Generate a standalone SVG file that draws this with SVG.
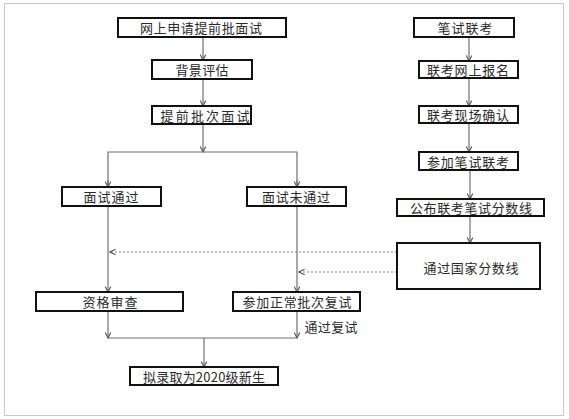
<svg xmlns="http://www.w3.org/2000/svg" width="569" height="419" viewBox="0 0 569 419">
<defs>
<style>
.box{fill:#fff;stroke:#111;stroke-width:2}
.t{font-family:"Noto Sans CJK SC","Liberation Sans",sans-serif;font-size:13px;fill:#2a2a2a;text-anchor:middle;dominant-baseline:central}
.ln{fill:none;stroke:#707070;stroke-width:1.2}
.dl{fill:none;stroke:#808080;stroke-width:1.2;stroke-dasharray:2 2}
</style>
<marker id="ah" viewBox="0 0 10 10" refX="9" refY="5" markerWidth="7" markerHeight="7" orient="auto" markerUnits="userSpaceOnUse">
<path d="M1,1 L9,5 L1,9" fill="none" stroke="#555" stroke-width="1.6"/>
</marker>
</defs>
<rect x="4.5" y="3.5" width="559" height="412" fill="#fff" stroke="#c8c8c8" stroke-width="1"/>
<g id="connectors">
<line class="ln" x1="203" y1="37" x2="203" y2="60" marker-end="url(#ah)"/>
<line class="ln" x1="203" y1="79" x2="203" y2="106" marker-end="url(#ah)"/>
<line class="ln" x1="203" y1="124" x2="203" y2="152" marker-end="url(#ah)"/>
<polyline class="ln" points="108,187 108,152 297,152 297,187"/>
<line class="ln" x1="108" y1="180" x2="108" y2="187" marker-end="url(#ah)"/>
<line class="ln" x1="297" y1="180" x2="297" y2="187" marker-end="url(#ah)"/>
<line class="ln" x1="469" y1="37" x2="469" y2="61" marker-end="url(#ah)"/>
<line class="ln" x1="469" y1="78" x2="469" y2="106" marker-end="url(#ah)"/>
<line class="ln" x1="469" y1="123" x2="469" y2="152" marker-end="url(#ah)"/>
<line class="ln" x1="470" y1="170" x2="470" y2="199" marker-end="url(#ah)"/>
<line class="ln" x1="470" y1="216" x2="470" y2="243" marker-end="url(#ah)"/>
<line class="ln" x1="108" y1="206" x2="108" y2="292" marker-end="url(#ah)"/>
<line class="ln" x1="297" y1="206" x2="297" y2="292" marker-end="url(#ah)"/>
<line class="dl" x1="397" y1="252" x2="110" y2="252" marker-end="url(#ah)"/>
<line class="dl" x1="397" y1="272" x2="299" y2="272" marker-end="url(#ah)"/>
<line class="ln" x1="108" y1="311" x2="108" y2="338" marker-end="url(#ah)"/>
<line class="ln" x1="297" y1="311" x2="297" y2="338" marker-end="url(#ah)"/>
<line class="ln" x1="108" y1="338" x2="297" y2="338"/>
<line class="ln" x1="204" y1="338" x2="204" y2="367" marker-end="url(#ah)"/>
<text class="t" x="331" y="326" textLength="53" lengthAdjust="spacing">通过复试</text>
</g>
<g id="n1"><rect class="box" x="118" y="18" width="168" height="19"/><text class="t" x="201" y="27.5" textLength="122" lengthAdjust="spacing">网上申请提前批面试</text></g>
<g id="n2"><rect class="box" x="152" y="60" width="100" height="19"/><text class="t" x="202" y="69.5" textLength="53" lengthAdjust="spacing">背景评估</text></g>
<g id="n3"><rect class="box" x="152" y="106" width="99" height="18"/><text class="t" x="205" y="115" textLength="89" lengthAdjust="spacing">提前批次面试</text></g>
<g id="n4"><rect class="box" x="62" y="187" width="99" height="19"/><text class="t" x="111" y="196.5" textLength="55" lengthAdjust="spacing">面试通过</text></g>
<g id="n5"><rect class="box" x="247" y="187" width="99" height="19"/><text class="t" x="296" y="196.5" textLength="68" lengthAdjust="spacing">面试未通过</text></g>
<g id="n6"><rect class="box" x="414" y="18" width="100" height="19"/><text class="t" x="465" y="27.5" textLength="55" lengthAdjust="spacing">笔试联考</text></g>
<g id="n7"><rect class="box" x="419" y="61" width="99" height="17"/><text class="t" x="468" y="69.5" textLength="82" lengthAdjust="spacing">联考网上报名</text></g>
<g id="n8"><rect class="box" x="419" y="106" width="99" height="17"/><text class="t" x="468" y="114.5" textLength="82" lengthAdjust="spacing">联考现场确认</text></g>
<g id="n9"><rect class="box" x="419" y="152" width="99" height="18"/><text class="t" x="468" y="161" textLength="82" lengthAdjust="spacing">参加笔试联考</text></g>
<g id="n10"><rect class="box" x="397" y="199" width="147" height="17"/><text class="t" x="471" y="207.5" textLength="122" lengthAdjust="spacing">公布联考笔试分数线</text></g>
<g id="n11"><rect class="box" x="397" y="243" width="143" height="46"/><text class="t" x="471" y="267" textLength="95" lengthAdjust="spacing">通过国家分数线</text></g>
<g id="n12"><rect class="box" x="36" y="292" width="147" height="19"/><text class="t" x="110" y="301.5" textLength="55" lengthAdjust="spacing">资格审查</text></g>
<g id="n13"><rect class="box" x="233" y="292" width="127" height="19"/><text class="t" x="297" y="301.5" textLength="109" lengthAdjust="spacing">参加正常批次复试</text></g>
<g id="n14"><rect class="box" x="130" y="367" width="148" height="18"/><text class="t" x="204" y="376" textLength="122" lengthAdjust="spacing">拟录取为2020级新生</text></g>
</svg>
